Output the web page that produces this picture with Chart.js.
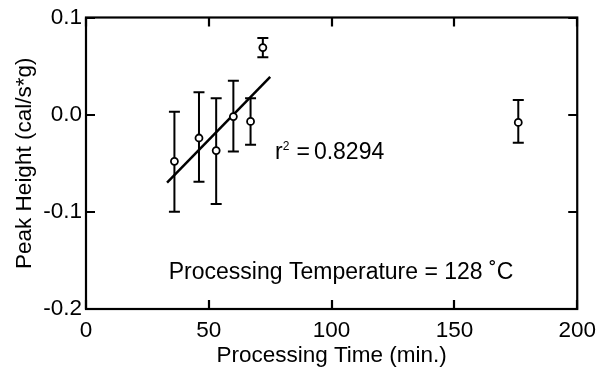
<!DOCTYPE html>
<html>
<head>
<meta charset="utf-8">
<script src="https://cdn.jsdelivr.net/npm/chart.js@4/dist/chart.umd.min.js"></script>
<style>
  html, body { margin: 0; padding: 0; background: #fff; }
  #wrap { width: 604px; height: 371px; }
</style>
</head>
<body>
<div id="wrap"><canvas id="peakChart" width="604" height="371"></canvas></div>
<script>
// Data
const times = [36, 46, 53, 60, 67, 72, 176];
const peakHeight = [-0.048, -0.024, -0.037, -0.002, -0.007, 0.069, -0.008];
const errUpper = [0.003, 0.023, 0.017, 0.035, 0.017, 0.079, 0.015];
const errLower = [-0.100, -0.069, -0.092, -0.038, -0.031, 0.059, -0.029];
const fitX = [33, 75];
const fitY = [-0.070, 0.039];
const xTicks = [0, 50, 100, 150, 200];
const yTicks = [-0.2, -0.1, 0.0, 0.1];
const yTickLabels = ['-0.2', '-0.1', '0.0', '0.1'];

const fontFamily = '"Liberation Sans", Arial, Helvetica, sans-serif';
const fontSize = 22.5;
const noteSize = 23;

// error bars under the markers
const errorBars = {
    id: 'errorBars',
    beforeDatasetsDraw(chart) {
        const ctx = chart.ctx;
        const xs = chart.scales.x, ys = chart.scales.y;
        ctx.save();
        ctx.strokeStyle = '#000';
        ctx.lineWidth = 2;
        for (let i = 0; i < times.length; i++) {
            const px = xs.getPixelForValue(times[i]);
            const top = ys.getPixelForValue(errUpper[i]);
            const bot = ys.getPixelForValue(errLower[i]);
            ctx.beginPath();
            ctx.moveTo(px, top); ctx.lineTo(px, bot);
            ctx.moveTo(px - 5.5, top); ctx.lineTo(px + 5.5, top);
            ctx.moveTo(px - 5.5, bot); ctx.lineTo(px + 5.5, bot);
            ctx.stroke();
        }
        ctx.restore();
    }
};

// frame with inward ticks on all four sides, plus the text notes
const frameAndNotes = {
    id: 'frameAndNotes',
    afterDatasetsDraw(chart) {
        const ctx = chart.ctx;
        const a = chart.chartArea;
        const xs = chart.scales.x, ys = chart.scales.y;
        const tl = 9;
        ctx.save();
        ctx.strokeStyle = '#000';
        ctx.lineWidth = 2.2;
        ctx.strokeRect(a.left, a.top, a.right - a.left, a.bottom - a.top);
        ctx.beginPath();
        xTicks.forEach(v => {
            const px = Math.round(xs.getPixelForValue(v));
            ctx.moveTo(px, a.bottom); ctx.lineTo(px, a.bottom - tl);
            ctx.moveTo(px, a.top); ctx.lineTo(px, a.top + tl);
        });
        yTicks.forEach(v => {
            const py = Math.round(ys.getPixelForValue(v));
            ctx.moveTo(a.left, py); ctx.lineTo(a.left + tl, py);
            ctx.moveTo(a.right, py); ctx.lineTo(a.right - tl, py);
        });
        ctx.stroke();

        ctx.fillStyle = '#000';
        ctx.textBaseline = 'alphabetic';
        ctx.textAlign = 'left';
        // r^2 note
        let x = xs.getPixelForValue(77);
        const y = ys.getPixelForValue(-0.0455);
        ctx.font = noteSize + 'px ' + fontFamily;
        ctx.fillText('r', x, y);
        x += ctx.measureText('r').width;
        ctx.font = '12px ' + fontFamily;
        ctx.fillText('2', x, y - 9);
        x += ctx.measureText('2').width + 7;
        ctx.font = noteSize + 'px ' + fontFamily;
        ctx.fillText('=', x, y);
        x += ctx.measureText('=').width + 4;
        ctx.fillText('0.8294', x, y);
        // processing temperature note
        ctx.fillText('Processing Temperature = 128 \u02DAC',
            xs.getPixelForValue(33.7), ys.getPixelForValue(-0.169));
        ctx.restore();
    }
};

const ctx = document.getElementById('peakChart').getContext('2d');
new Chart(ctx, {
    type: 'scatter',
    data: {
        datasets: [{
            data: times.map((t, i) => ({ x: t, y: peakHeight[i] })),
            pointRadius: 3.5,
            pointBackgroundColor: '#fff',
            pointBorderColor: '#000',
            pointBorderWidth: 1.8,
            order: 1
        }, {
            data: fitX.map((t, i) => ({ x: t, y: fitY[i] })),
            showLine: true,
            pointRadius: 0,
            borderColor: '#000',
            borderWidth: 2.5,
            order: 2
        }]
    },
    options: {
        responsive: false,
        animation: false,
        devicePixelRatio: 1,
        layout: { padding: { left: 0, top: 16, right: 19, bottom: 0 } },
        plugins: { legend: { display: false }, tooltip: { enabled: false } },
        scales: {
            x: {
                type: 'linear',
                min: 0, max: 200,
                afterBuildTicks: s => { s.ticks = xTicks.map(v => ({ value: v })); },
                afterFit: s => { s.height = 62; },
                grid: { display: false, drawTicks: false },
                border: { display: false },
                ticks: { color: '#000', padding: 8, maxRotation: 0, autoSkip: false,
                         font: { family: fontFamily, size: fontSize } },
                title: { display: true, text: 'Processing Time (min.)', color: '#000',
                         padding: { top: 0, bottom: 2 },
                         font: { family: fontFamily, size: fontSize } }
            },
            y: {
                type: 'linear',
                min: -0.2, max: 0.1,
                afterBuildTicks: s => { s.ticks = yTicks.map(v => ({ value: v })); },
                afterFit: s => { s.width = 86; },
                grid: { display: false, drawTicks: false },
                border: { display: false },
                ticks: { color: '#000', padding: 4, autoSkip: false,
                         font: { family: fontFamily, size: fontSize },
                         callback: v => yTickLabels[yTicks.findIndex(t => Math.abs(t - v) < 1e-9)] },
                title: { display: true, text: 'Peak Height (cal/s*g)', color: '#000',
                         padding: { top: 11, bottom: 0 },
                         font: { family: fontFamily, size: fontSize } }
            }
        }
    },
    plugins: [errorBars, frameAndNotes]
});
</script>
</body>
</html>
